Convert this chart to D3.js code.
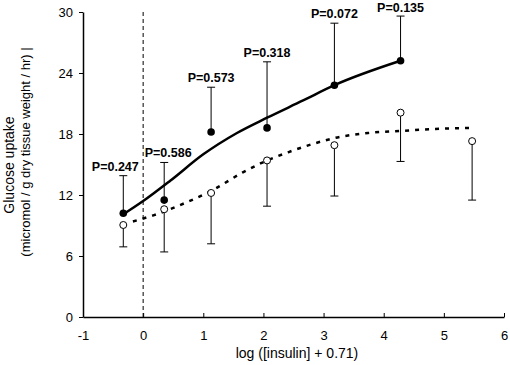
<!DOCTYPE html>
<html>
<head>
<meta charset="utf-8">
<script src="https://cdn.jsdelivr.net/npm/d3@7"></script>
<style>
  body { margin: 0; background: #fff; }
  svg { display: block; font-family: "Liberation Sans", Arial, sans-serif; }
</style>
</head>
<body>
<div id="chart"></div>
<script>
// insulin dose (log scale) for each group
const xFilled = [-0.33, 0.35, 1.13, 2.06, 3.18, 4.28];
const yFilled = [10.2, 11.5, 18.2, 18.6, 22.8, 25.2];
const errFilled = [3.7, 3.7, 4.4, 6.5, 6.1, 4.4];   // bars drawn upward
const pValues = ["P=0.247", "P=0.586", "P=0.573", "P=0.318", "P=0.072", "P=0.135"];

const xOpen = [-0.33, 0.35, 1.13, 2.06, 3.18, 4.28, 5.47];
const yOpen = [9.05, 10.6, 12.2, 15.4, 16.9, 20.1, 17.3];
const errOpen = [2.15, 4.2, 5.0, 4.5, 5.0, 4.8, 5.8];  // bars drawn downward

// fitted curves
const fitFilledX = [-0.33, 0, 0.45, 1.0, 1.56, 2.06, 2.66, 3.18, 4.28];
const fitFilledY = [10.1, 11.4, 13.4, 16.0, 18.1, 19.6, 21.3, 22.8, 25.2];
const fitOpenX = [-0.17, 0.17, 0.73, 1.13, 1.65, 1.95, 2.41, 2.81, 3.18, 3.74, 4.28, 4.86, 5.47];
const fitOpenY = [9.4, 10.0, 11.3, 12.4, 14.2, 15.1, 16.2, 17.0, 17.6, 18.1, 18.3, 18.5, 18.6];

const xTicks = [-1, 0, 1, 2, 3, 4, 5, 6];
const yTicks = [0, 6, 12, 18, 24, 30];

const width = 510, height = 365;
const plotLeft = 83, plotRight = 504, plotTop = 12, plotBottom = 317;

const svg = d3.select("#chart").append("svg")
    .attr("width", width)
    .attr("height", height);

svg.append("rect").attr("width", width).attr("height", height).attr("fill", "#fff");

const x = d3.scaleLinear().domain([-1, 6]).range([plotLeft, plotRight]);
const y = d3.scaleLinear().domain([0, 30]).range([plotBottom, plotTop]);

// dashed reference line at x = 0
svg.append("line")
    .attr("x1", x(0)).attr("x2", x(0))
    .attr("y1", y(30)).attr("y2", y(0))
    .attr("stroke", "#000")
    .attr("stroke-width", 1)
    .attr("stroke-dasharray", "4,3");

// axes
const xAxis = d3.axisBottom(x).tickValues(xTicks).tickSize(-4).tickSizeOuter(0).tickFormat(d => String(d));
const gx = svg.append("g")
    .attr("transform", "translate(0," + plotBottom + ")")
    .call(xAxis);
gx.selectAll("text").attr("y", 14).attr("dy", "0.71em");

const yAxis = d3.axisLeft(y).tickValues(yTicks).tickSize(4).tickPadding(6).tickSizeOuter(0);
const gy = svg.append("g")
    .attr("transform", "translate(" + plotLeft + ",0)")
    .call(yAxis);

[gx, gy].forEach(g => {
    g.select(".domain").attr("stroke", "#000").attr("stroke-width", 1.5);
    g.selectAll(".tick line").attr("stroke", "#000");
    g.selectAll("text").attr("fill", "#000").style("font-size", "13px").style("font-family", "'Liberation Sans', Arial, sans-serif");
});

// axis titles
svg.append("text")
    .attr("x", (plotLeft + plotRight) / 2 + 3.5)
    .attr("y", 358)
    .attr("text-anchor", "middle")
    .style("font-size", "14px")
    .text("log ([insulin] + 0.71)");

svg.append("text")
    .attr("transform", "translate(14,165) rotate(-90)")
    .attr("text-anchor", "middle")
    .style("font-size", "14px")
    .text("Glucose uptake");

svg.append("text")
    .attr("transform", "translate(30,152) rotate(-90)")
    .attr("text-anchor", "middle")
    .style("font-size", "13px")
    .text("(micromol / g dry tissue weight / hr) |");

// fitted curves
const line = d3.line()
    .x(d => x(d[0]))
    .y(d => y(d[1]))
    .curve(d3.curveMonotoneX);

svg.append("path")
    .attr("d", line(d3.zip(fitOpenX, fitOpenY)))
    .attr("fill", "none")
    .attr("stroke", "#000")
    .attr("stroke-width", 2.5)
    .attr("stroke-dasharray", "4,6");

svg.append("path")
    .attr("d", line(d3.zip(fitFilledX, fitFilledY)))
    .attr("fill", "none")
    .attr("stroke", "#000")
    .attr("stroke-width", 2.5);

// error bars
function errorBars(xs, ys, errs, dir) {
    const g = svg.append("g").attr("stroke", "#000").attr("stroke-width", 1);
    xs.forEach((xv, i) => {
        const end = ys[i] + dir * errs[i];
        g.append("line")
            .attr("x1", x(xv)).attr("x2", x(xv))
            .attr("y1", y(ys[i])).attr("y2", y(end));
        g.append("line")
            .attr("x1", x(xv) - 4).attr("x2", x(xv) + 4)
            .attr("y1", y(end)).attr("y2", y(end));
    });
}
errorBars(xOpen, yOpen, errOpen, -1);
errorBars(xFilled, yFilled, errFilled, 1);

// markers
svg.append("g").selectAll("circle")
    .data(d3.zip(xOpen, yOpen))
    .enter().append("circle")
    .attr("cx", d => x(d[0]))
    .attr("cy", d => y(d[1]))
    .attr("r", 3.5)
    .attr("fill", "#fff")
    .attr("stroke", "#000")
    .attr("stroke-width", 1);

svg.append("g").selectAll("circle")
    .data(d3.zip(xFilled, yFilled))
    .enter().append("circle")
    .attr("cx", d => x(d[0]))
    .attr("cy", d => y(d[1]))
    .attr("r", 3.8)
    .attr("fill", "#000");

// P value labels above the upper error bars
// first two are nudged off the dashed zero line
const labelNudge = [-8, 4, 0, 0, 0, 0];
svg.append("g").selectAll("text")
    .data(pValues)
    .enter().append("text")
    .attr("x", (d, i) => x(xFilled[i]) + labelNudge[i])
    .attr("y", (d, i) => Math.max(y(yFilled[i] + errFilled[i]) - 5, 12))
    .attr("text-anchor", "middle")
    .style("font-size", "12.5px")
    .style("font-weight", "bold")
    .text(d => d);
</script>
</body>
</html>
